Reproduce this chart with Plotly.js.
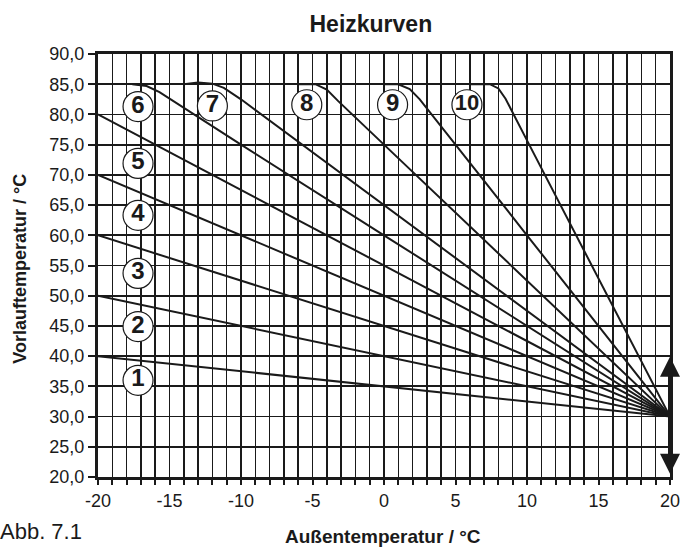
<!DOCTYPE html>
<html>
<head>
<meta charset="utf-8">
<script src="https://cdn.plot.ly/plotly-3.0.1.min.js"></script>
<style>html,body{margin:0;padding:0;background:#fff;}#chart{width:681px;height:548px;}</style>
</head>
<body>
<div id="chart"></div>
<script>
// ---- data ----
const xTickVals = [-20, -15, -10, -5, 0, 5, 10, 15, 20];
const xTickText = ['-20', '-15', '-10', '-5', '0', '5', '10', '15', '20'];
const yTickVals = [20, 25, 30, 35, 40, 45, 50, 55, 60, 65, 70, 75, 80, 85, 90];
const yTickText = ['20,0', '25,0', '30,0', '35,0', '40,0', '45,0', '50,0', '55,0', '60,0', '65,0', '70,0', '75,0', '80,0', '85,0', '90,0'];

const curve1X = [-20, -10, 0, 10, 20];
const curve1Y = [40, 37.5, 35, 32.5, 30];
const curve2X = [-20, -10, 0, 10, 20];
const curve2Y = [50, 45, 40, 35, 30];
const curve3X = [-20, -10, 0, 10, 20];
const curve3Y = [60, 52.5, 45, 37.5, 30];
const curve4X = [-20, -10, 0, 10, 20];
const curve4Y = [70, 60, 50, 40, 30];
const curve5X = [-20, -10, 0, 10, 20];
const curve5Y = [80, 67.5, 55, 42.5, 30];
const curve6X = [-17.6, -16.6, -15.7, -10, 0, 10, 20];
const curve6Y = [85, 84.7, 83.7, 75, 60, 45, 30];
const curve7X = [-14, -13, -12, -11.2, -10, 0, 10, 20];
const curve7Y = [85, 85.3, 85.1, 84.4, 82.5, 65, 47.5, 30];
const curve8X = [-6, -4.8, -4, -3.2, 0, 10, 20];
const curve8Y = [85, 85, 84.1, 82.2, 75, 52.5, 30];
const curve9X = [0, 1, 1.8, 2.5, 10, 20];
const curve9Y = [85, 85, 84.2, 82.5, 60, 30];
const curve10X = [6, 7.4, 8.0, 8.5, 10, 20];
const curve10Y = [85, 85, 84.3, 82.6, 75.7, 30];

const labelText = ['1', '2', '3', '4', '5', '6', '7', '8', '9', '10'];
const labelX = [-17.2, -17.2, -17.2, -17.2, -17.2, -17.2, -12.0, -5.4, 0.6, 5.8];
const labelY = [36.0, 44.9, 53.7, 63.3, 71.9, 81.3, 81.4, 81.6, 81.6, 81.6];

const arrowX = 20, arrowBottom = 20.3, arrowTop = 39.9;

// ---- build ----
const FONT = 'Liberation Sans, Arial, sans-serif';
const INK = '#1a1a1a';
const curvesX = [curve1X, curve2X, curve3X, curve4X, curve5X, curve6X, curve7X, curve8X, curve9X, curve10X];
const curvesY = [curve1Y, curve2Y, curve3Y, curve4Y, curve5Y, curve6Y, curve7Y, curve8Y, curve9Y, curve10Y];

const traces = curvesX.map((xs, i) => ({
  type: 'scatter', mode: 'lines', x: xs, y: curvesY[i],
  line: {color: INK, width: 2}, hoverinfo: 'skip', showlegend: false
}));

traces.push({
  type: 'scatter', mode: 'markers+text', x: labelX, y: labelY, text: labelText,
  textposition: 'middle center',
  textfont: {family: FONT, size: labelText.map(t => t.length > 1 ? 22 : 24), color: INK, weight: 'bold'},
  marker: {symbol: 'circle', size: 30, color: '#fff', line: {color: INK, width: 1.2}},
  hoverinfo: 'skip', showlegend: false, cliponaxis: false
});

const layout = {
  width: 681, height: 548,
  margin: {l: 98, r: 11, t: 54, b: 71},
  paper_bgcolor: '#fff', plot_bgcolor: '#fff',
  separators: ',.',
  showlegend: false,
  title: {text: 'Heizkurven', font: {family: FONT, size: 23, color: INK, weight: 'bold'},
          x: 0.477, xref: 'paper', xanchor: 'center', y: 1 - 23.5 / 548, yref: 'container', yanchor: 'middle'},
  xaxis: {
    range: [-20, 20], tickmode: 'array', tickvals: xTickVals, ticktext: xTickText,
    showgrid: true, gridcolor: INK, gridwidth: 1.5, zeroline: false,
    showline: true, linecolor: INK, linewidth: 3, mirror: true,
    ticks: 'outside', ticklen: 5, tickwidth: 2, tickcolor: INK,
    tickfont: {family: FONT, size: 18, color: INK},
    minor: {tickmode: 'linear', tick0: -20, dtick: 1, showgrid: true, gridcolor: INK, gridwidth: 1.5,
            ticks: 'outside', ticklen: 5, tickwidth: 2, tickcolor: INK},
    fixedrange: true
  },
  yaxis: {
    range: [20, 90], tickmode: 'array', tickvals: yTickVals, ticktext: yTickText,
    showgrid: true, gridcolor: INK, gridwidth: 1.8, zeroline: false,
    showline: true, linecolor: INK, linewidth: 3, mirror: true,
    ticks: 'outside', ticklen: 7, tickwidth: 2, tickcolor: INK,
    tickfont: {family: FONT, size: 18, color: INK},
    fixedrange: true
  },
  annotations: [
    {text: 'Außentemperatur / °C', xref: 'paper', yref: 'paper', x: 0.4976, y: -0.141,
     xanchor: 'center', yanchor: 'middle', showarrow: false,
     font: {family: FONT, size: 19, color: INK, weight: 'bold'}},
    {text: 'Vorlauftemperatur / °C', xref: 'paper', yref: 'paper', x: -0.137, y: 0.4917,
     xanchor: 'center', yanchor: 'middle', showarrow: false, textangle: -90,
     font: {family: FONT, size: 18, color: INK, weight: 'bold'}},
    {text: 'Abb. 7.1', xref: 'paper', yref: 'paper', x: (-2 - 98) / 572, y: (477 - 531) / 423,
     xanchor: 'left', yanchor: 'middle', showarrow: false,
     font: {family: FONT, size: 22, color: INK}},
    {text: '', xref: 'x', yref: 'y', axref: 'x', ayref: 'y',
     x: arrowX, y: arrowTop, ax: arrowX, ay: arrowBottom,
     showarrow: true, arrowhead: 2, startarrowhead: 2, arrowside: 'end+start',
     arrowwidth: 4, arrowsize: 1, startarrowsize: 1, arrowcolor: INK, standoff: 0, startstandoff: 0}
  ]
};

Plotly.newPlot('chart', traces, layout, {staticPlot: true, displayModeBar: false});
</script>
</body>
</html>
